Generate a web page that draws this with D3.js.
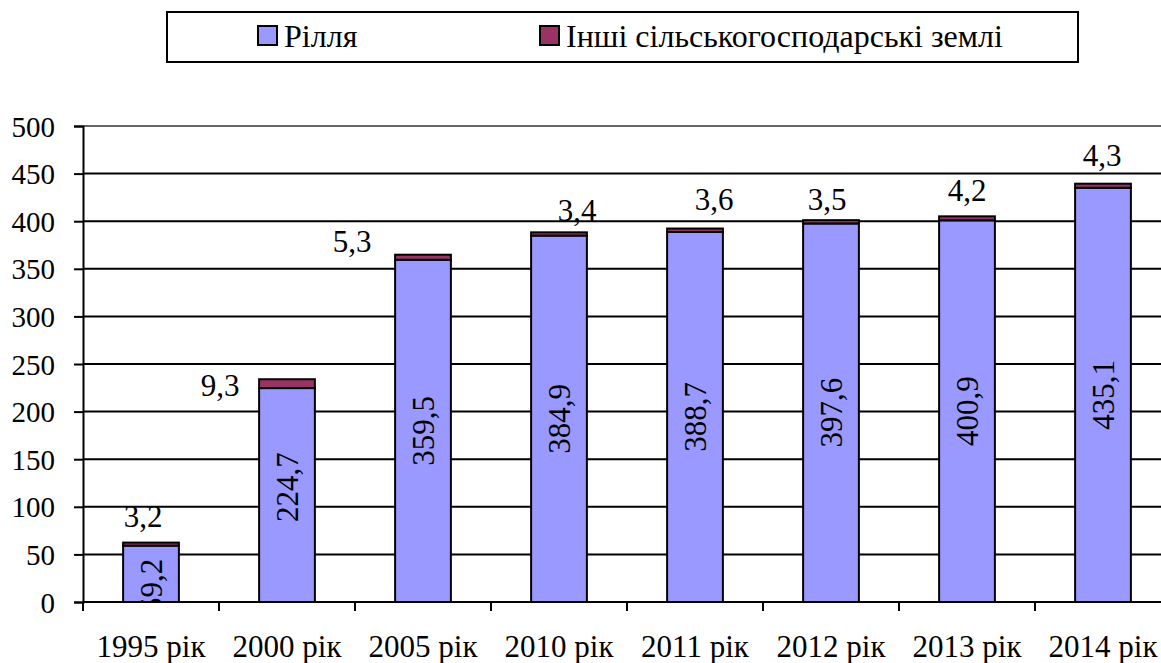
<!DOCTYPE html>
<html>
<head>
<meta charset="utf-8">
<script src="https://cdn.jsdelivr.net/npm/d3@7"></script>
<style>
  body { margin: 0; background: #fff; }
</style>
</head>
<body>
<div id="chart"></div>
<script>
// data
var years = ["1995 рік", "2000 рік", "2005 рік", "2010 рік", "2011 рік", "2012 рік", "2013 рік", "2014 рік"];
var arable = [59.2, 224.7, 359.5, 384.9, 388.7, 397.6, 400.9, 435.1];
var otherLand = [3.2, 9.3, 5.3, 3.4, 3.6, 3.5, 4.2, 4.3];
var seriesNames = ["Рілля", "Інші сільськогосподарські землі"];
var seriesColors = ["#9999ff", "#993366"];
var yTicks = [0, 50, 100, 150, 200, 250, 300, 350, 400, 450, 500];

var W = 1161, H = 663;
var plotLeft = 83, plotBottom = 602, plotTop = 126;
var step = 136;
var fontSize = 31;
var mid = Math.round(fontSize * 0.34); // baseline shift to centre text vertically
var serif = "'Liberation Serif', 'Times New Roman', serif";

var svg = d3.select("#chart").append("svg")
  .attr("width", W)
  .attr("height", H);

var x = d3.scaleBand()
  .domain(years)
  .range([plotLeft, plotLeft + step * years.length])
  .paddingInner(0.59)
  .paddingOuter(0.295);

var y = d3.scaleLinear()
  .domain([0, 500])
  .range([plotBottom, plotTop]);

// clip for the labels inside bars
svg.append("clipPath").attr("id", "plotClip")
  .append("rect")
    .attr("x", plotLeft).attr("y", plotTop - 60)
    .attr("width", W - plotLeft).attr("height", plotBottom - plotTop + 60);

// gridlines
svg.append("g")
  .selectAll("line")
  .data(yTicks.filter(function(d) { return d > 0; }))
  .enter()
  .append("line")
    .attr("x1", plotLeft).attr("x2", W)
    .attr("y1", function(d) { return y(d); })
    .attr("y2", function(d) { return y(d); })
    .attr("stroke", function(d) { return d == 500 ? "#666" : "#000"; })
    .attr("stroke-width", 2);

// y axis
var yAxis = svg.append("g")
  .attr("transform", "translate(" + plotLeft + ",0)")
  .call(d3.axisLeft(y).tickValues(yTicks).tickSize(9).tickPadding(19));
yAxis.attr("font-size", 29);
yAxis.select(".domain").attr("stroke", "#000").attr("stroke-width", 2);
yAxis.selectAll(".tick line").attr("stroke", "#000").attr("stroke-width", 2);
yAxis.selectAll(".tick text").attr("dy", null).attr("y", 10);

// stacked bars
var stack = years.map(function(c, i) {
  return {year: c, a: arable[i], o: otherLand[i], i: i};
});

var bars = svg.append("g")
  .selectAll("g")
  .data(stack)
  .enter()
  .append("g");

bars.append("rect")
  .attr("x", function(d) { return x(d.year); })
  .attr("y", function(d) { return y(d.a); })
  .attr("width", x.bandwidth())
  .attr("height", function(d) { return y(0) - y(d.a); })
  .attr("fill", seriesColors[0])
  .attr("stroke", "#000")
  .attr("stroke-width", 2);

bars.append("rect")
  .attr("x", function(d) { return x(d.year); })
  .attr("y", function(d) { return y(d.a + d.o); })
  .attr("width", x.bandwidth())
  .attr("height", function(d) { return y(d.a) - y(d.a + d.o); })
  .attr("fill", seriesColors[1])
  .attr("stroke", "#000")
  .attr("stroke-width", 2);

// x axis with ticks between categories
var xAxis = svg.append("g");
xAxis.append("line")
  .attr("x1", plotLeft).attr("x2", W)
  .attr("y1", plotBottom).attr("y2", plotBottom)
  .attr("stroke", "#000").attr("stroke-width", 2);
xAxis.selectAll(".tk")
  .data(d3.range(years.length + 1))
  .enter()
  .append("line")
    .attr("x1", function(i) { return plotLeft + i * x.step(); })
    .attr("x2", function(i) { return plotLeft + i * x.step(); })
    .attr("y1", plotBottom).attr("y2", plotBottom + 9)
    .attr("stroke", "#000").attr("stroke-width", 2);
xAxis.selectAll("text")
  .data(years)
  .enter()
  .append("text")
    .attr("x", function(d) { return x(d) + x.bandwidth() / 2; })
    .attr("y", 657)
    .attr("text-anchor", "middle")
    .attr("font-size", fontSize)
    .text(function(d) { return d; });

var fmt = function(v) { return String(v).replace(".", ","); };

// rotated labels inside the arable bars
var arableShift = [12, -8, 0, 0, 0, 0, 0, 0];
svg.append("g")
  .attr("clip-path", "url(#plotClip)")
  .selectAll("text")
  .data(stack)
  .enter()
  .append("text")
    .attr("transform", function(d) {
      var cx = x(d.year) + x.bandwidth() / 2;
      var cy = (y(0) + y(d.a)) / 2 + arableShift[d.i];
      return "translate(" + cx + "," + cy + ") rotate(-90)";
    })
    .attr("text-anchor", "middle")
    .attr("y", mid)
    .attr("font-size", fontSize)
    .text(function(d) { return fmt(d.a); });

// labels for the other land series (Excel placed them loosely)
var otherShift = [[-8, -27], [-67, 6], [-71, -14], [18, -22], [19, -30], [-4, -21], [0, -26], [-1, -29]];
svg.append("g")
  .selectAll("text")
  .data(stack)
  .enter()
  .append("text")
    .attr("x", function(d) { return x(d.year) + x.bandwidth() / 2 + otherShift[d.i][0]; })
    .attr("y", function(d) { return y(d.a + d.o) + otherShift[d.i][1] + mid; })
    .attr("text-anchor", "middle")
    .attr("font-size", fontSize)
    .text(function(d) { return fmt(d.o); });

// legend
var legend = svg.append("g");
legend.append("rect")
  .attr("x", 167).attr("y", 12)
  .attr("width", 911).attr("height", 50)
  .attr("fill", "#fff")
  .attr("stroke", "#000").attr("stroke-width", 2);

var legendX = [258, 540];
var items = legend.selectAll(".item")
  .data(seriesNames)
  .enter()
  .append("g")
    .attr("transform", function(d, i) { return "translate(" + legendX[i] + ",26)"; });
items.append("rect")
  .attr("width", 19).attr("height", 19)
  .attr("fill", function(d, i) { return seriesColors[i]; })
  .attr("stroke", "#000").attr("stroke-width", 2);
items.append("text")
  .attr("x", 26).attr("y", 21)
  .attr("font-size", 32)
  .text(function(d) { return d; });

// one serif face for every text
svg.selectAll("text")
  .attr("font-family", serif)
  .style("font-family", serif)
  .style("fill", "#000");
</script>
</body>
</html>
